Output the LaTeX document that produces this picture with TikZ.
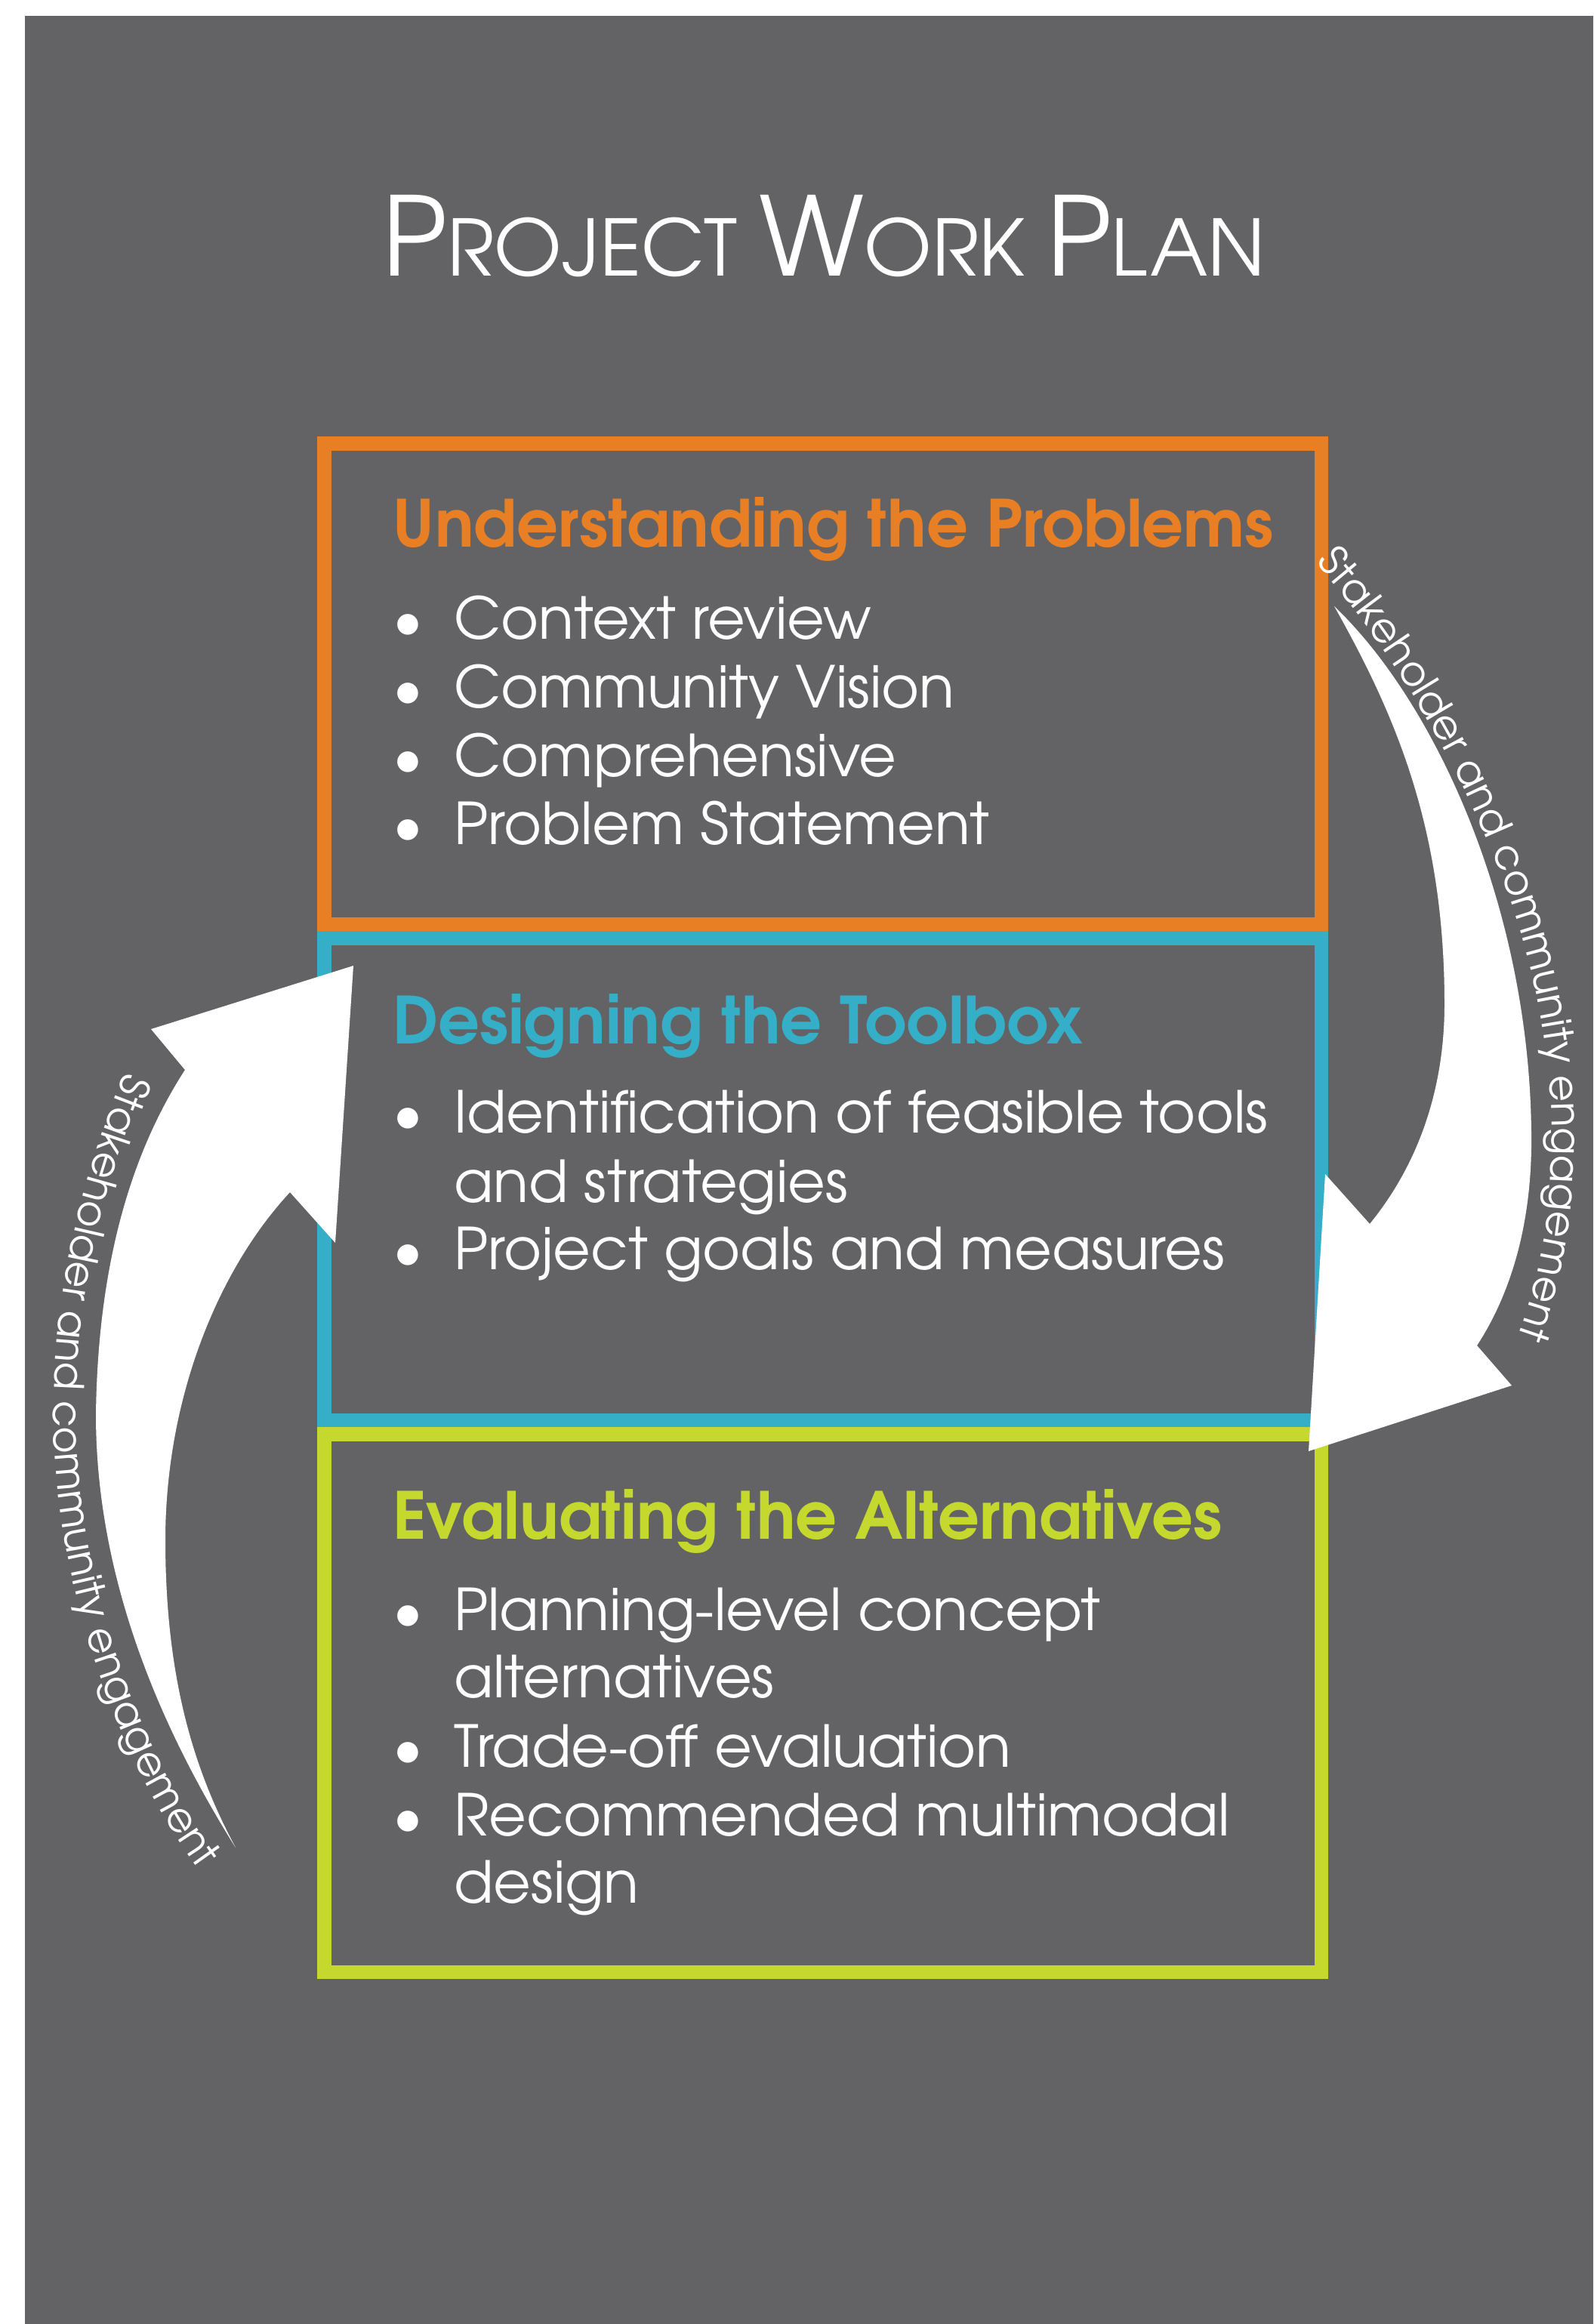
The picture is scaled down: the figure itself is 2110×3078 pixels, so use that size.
\documentclass[tikz,border=0pt]{standalone}
\usepackage{fontspec}
\setmainfont{TeX Gyre Adventor}
\usetikzlibrary{decorations.text}

\definecolor{bg}{RGB}{99,99,101}
\definecolor{porange}{RGB}{233,127,36}
\definecolor{pcyan}{RGB}{53,174,200}
\definecolor{pgreen}{RGB}{197,216,46}

\newcommand\sklabelfont{\fontsize{54}{60}\selectfont}
\newcommand\titlebig{\fontsize{145}{150}\selectfont}
\newcommand\titlesmall{\fontsize{103}{110}\selectfont}

\begin{document}
\begin{tikzpicture}[x=1pt,y=-1pt,
  frame/.style={line width=18.5pt},
  head/.style={anchor=base west, inner sep=0pt, font=\bfseries\fontsize{86}{95}\selectfont},
  item/.style={anchor=base west, inner sep=0pt, text=white, font=\fontsize{76.5}{91}\selectfont},
  dot/.style={anchor=base, inner sep=0pt, text=white, font=\fontsize{76.5}{91}\selectfont},
  curvedlabel/.style={decorate, decoration={text along path, text color=white,
      text={|\sklabelfont|Stakeholder and community engagement}}}]
\useasboundingbox (0,0) rectangle (2110,3078);
\fill[bg] (33,21) rectangle (2110,3078);

% title in small capitals
\node[anchor=base, inner sep=0pt, text=white] (title) at (1091,365)
  {\titlebig P\titlesmall ROJECT \titlebig W\titlesmall ORK \titlebig P\titlesmall LAN};

% the three stages
\draw[frame, draw=porange] (429.25,587.25) rectangle (1749.75,1223.75);
\draw[frame, draw=pcyan]   (429.25,1242.25) rectangle (1749.75,1880.75);
\draw[frame, draw=pgreen]  (429.25,1899.25) rectangle (1749.75,2611.75);

% stage 1
\node[head, text=porange] (h1) at (520,724) {Understanding the Problems};
\node[dot] (b11) at (540,846) {\textbullet};
\node[item] (i11) at (601,846) {Context review};
\node[dot] (b12) at (540,937) {\textbullet};
\node[item] (i12) at (601,937) {Community Vision};
\node[dot] (b13) at (540,1028) {\textbullet};
\node[item] (i13) at (601,1028) {Comprehensive};
\node[dot] (b14) at (540,1118) {\textbullet};
\node[item] (i14) at (601,1118) {Problem Statement};

% stage 2
\node[head, text=pcyan] (h2) at (520,1382) {Designing the Toolbox};
\node[dot] (b21) at (540,1500) {\textbullet};
\node[item] (i21a) at (601,1500) {Identification of feasible tools};
\node[item] (i21b) at (601,1592) {and strategies};
\node[dot] (b22) at (540,1681) {\textbullet};
\node[item] (i22) at (601,1681) {Project goals and measures};

% stage 3
\node[head, text=pgreen] (h3) at (520,2038) {Evaluating the Alternatives};
\node[dot] (b31) at (540,2159) {\textbullet};
\node[item] (i31a) at (601,2159) {Planning-level concept};
\node[item] (i31b) at (601,2248) {alternatives};
\node[dot] (b32) at (540,2340) {\textbullet};
\node[item] (i32) at (601,2340) {Trade-off evaluation};
\node[dot] (b33) at (540,2431) {\textbullet};
\node[item] (i33a) at (601,2431) {Recommended multimodal};
\node[item] (i33b) at (601,2520) {design};

% right-hand curved arrow, from stage 1 down to stage 3
\fill[white] (1767,803) .. controls (1900,930) and (2025,1200) .. (2028,1500)
  .. controls (2030,1640) and (1990,1730) .. (1956,1782)
  -- (2002,1835) -- (1733,1922) -- (1755,1555) -- (1814,1621)
  .. controls (1880,1540) and (1913,1440) .. (1913,1330)
  .. controls (1913,1100) and (1850,950) .. (1767,803) -- cycle;

% left-hand curved arrow, from stage 3 back up to stage 2
\fill[white] (312,2447) .. controls (220,2300) and (127,2100) .. (127,1873)
  .. controls (130,1650) and (185,1510) .. (245,1417)
  -- (200,1363) -- (468,1279) -- (444,1646) -- (384,1579)
  .. controls (290,1680) and (219,1850) .. (219,2040)
  .. controls (219,2230) and (260,2350) .. (312,2447) -- cycle;

% labels running along the arrows
\path[curvedlabel] (1742,745) .. controls (1880,900) and (2055,1200) .. (2055,1500)
  .. controls (2055,1640) and (2030,1720) .. (2000,1800);
\path[curvedlabel] (166,1420) .. controls (100,1580) and (70,1730) .. (71,1880)
  .. controls (72,2100) and (160,2350) .. (285,2505);
\end{tikzpicture}
\end{document}
